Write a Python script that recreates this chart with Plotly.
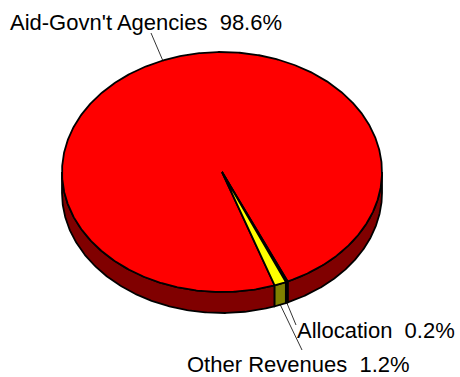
import numpy as np
import plotly.graph_objects as go

# Revenue shares (percent of total)
categories = ["Aid-Govn't Agencies", "Allocation", "Other Revenues"]
shares = [98.6, 0.2, 1.2]
top_colors = ["#FF0000", "#333399", "#FFFF00"]
side_colors = ["#800000", "#1A1A4D", "#808000"]

# Pie geometry (pixel space of the canvas)
CX, CY = 222.0, 172.0
RX, RY = 160.0, 120.0
DEPTH = 21.0
START_ANGLE = 160.8  # degrees, clockwise from 12 o'clock

# Label anchors (left edge, vertical middle) and leader-line end points
label_pos = [(8, 22), (295, 330), (185, 364)]
leader_end = [(151, 33), (296, 325), (302, 350)]


def edge_point(theta, dy=0.0):
    r = np.radians(theta)
    return CX + RX * np.sin(r), CY - RY * np.cos(r) + dy


# slice angular extents
bounds = []
a = START_ANGLE
for v in shares:
    b = a + v / sum(shares) * 360.0
    bounds.append((a, b))
    a = b

fig = go.Figure()

# Outer side wall: only the front half (90..270 deg) is visible
for (a, b), col in zip(bounds, side_colors):
    for v0, v1 in [(90, 270), (450, 630)]:
        lo, hi = max(a, v0), min(b, v1)
        if hi <= lo:
            continue
        th = np.linspace(lo, hi, 200)
        tx, ty = edge_point(th)
        bx, by = edge_point(th[::-1], DEPTH)
        xs = np.concatenate([tx, bx, tx[:1]])
        ys = np.concatenate([ty, by, ty[:1]])
        fig.add_trace(go.Scatter(x=xs, y=ys, mode="lines", fill="toself",
                                 fillcolor=col, line=dict(color="black", width=1.8),
                                 hoverinfo="skip"))

# Top faces
for (a, b), col in zip(bounds, top_colors):
    th = np.linspace(a, b, max(4, int((b - a) * 2)))
    ax_, ay_ = edge_point(th)
    xs = np.concatenate([[CX], ax_, [CX]])
    ys = np.concatenate([[CY], ay_, [CY]])
    fig.add_trace(go.Scatter(x=xs, y=ys, mode="lines", fill="toself",
                             fillcolor=col, line=dict(color="black", width=1.8),
                             hoverinfo="skip"))

# Leader lines and labels
annotations = []
for i, ((a, b), name, v) in enumerate(zip(bounds, categories, shares)):
    mid = (a + b) / 2.0
    front = 90 < (mid % 360) < 270
    sx, sy = edge_point(mid, DEPTH if front else 0.0)
    ex, ey = leader_end[i]
    fig.add_trace(go.Scatter(x=[sx, ex], y=[sy, ey], mode="lines",
                             line=dict(color="black", width=0.8), hoverinfo="skip"))
    lx, ly = label_pos[i]
    annotations.append(dict(x=lx, y=ly, xref="x", yref="y", text=f"{name}  {v}%",
                            showarrow=False, xanchor="left", yanchor="middle",
                            font=dict(family="Liberation Sans, Arial", size=22, color="black")))

fig.update_layout(
    width=460, height=377,
    margin=dict(l=0, r=0, t=0, b=0),
    paper_bgcolor="white", plot_bgcolor="white",
    showlegend=False,
    xaxis=dict(range=[0, 460], visible=False, fixedrange=True),
    yaxis=dict(range=[377, 0], visible=False, fixedrange=True),
    annotations=annotations,
)

fig.write_html("out.html")
